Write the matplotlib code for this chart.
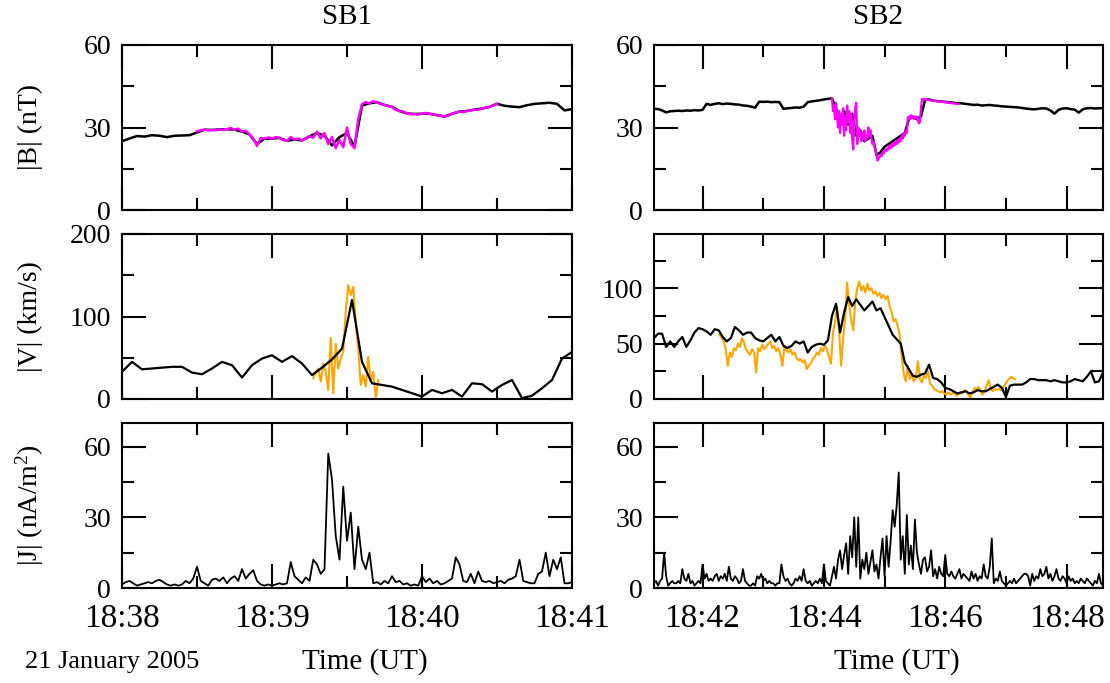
import numpy as np
import matplotlib
matplotlib.use('Agg')
import matplotlib.pyplot as plt
from matplotlib.ticker import MultipleLocator, FuncFormatter

# fonte parecida com Times (xmgrace)
plt.rcParams['font.family'] = ['Liberation Serif', 'DejaVu Serif']
plt.rcParams['mathtext.fontset'] = 'custom'
plt.rcParams['mathtext.rm'] = 'Liberation Serif'
plt.rcParams['mathtext.it'] = 'Liberation Serif:italic'

# tempo em minutos depois das 18:00, passo em segundos
# ---------------- SB1 ----------------
sb1_b_t0, sb1_b_passo = 38.0, 3.0
sb1_b = [25.0, 26.0, 26.9, 26.7, 27.2, 27.0, 26.5, 27.0, 27.1, 27.2, 28.2,
         29.2, 29.1, 29.3, 29.4, 29.2, 28.5, 27.5, 24.0, 25.9, 26.0, 26.2, 25.2,
         25.6, 25.3, 26.8, 28.0, 27.0, 23.5, 26.5, 28.0, 23.0, 38.0, 38.8, 39.2,
         38.2, 37.5, 36.0, 35.1, 34.9, 35.0, 35.0, 34.5, 34.0, 35.0, 35.8, 36.0,
         36.5, 36.9, 37.5,
         38.6, 37.9, 37.6, 37.4, 38.1, 38.6, 38.8, 39.0, 38.6, 36.2, 36.7]

sb1_bm_t0, sb1_bm_passo = 38.5, 1.5
sb1_b_mag = [28.6, 29.0, 29.2, 28.9, 29.1, 29.0, 29.3, 29.1, 29.4, 29.8,
             29.2, 29.6, 28.5, 28.8, 27.5, 26.0, 23.3, 26.2, 25.9, 26.4,
             26.0, 26.5, 26.2, 25.4, 25.2, 26.5, 25.6, 26.0, 25.3, 25.9,
             26.8, 26.3, 28.5, 26.0, 28.0, 24.0, 26.5, 22.5, 25.5, 22.8,
             30.0, 24.0, 22.5, 33.0, 38.5, 39.2, 38.8, 39.5, 39.2, 38.6,
             38.2, 37.8, 37.5, 36.4, 36.0, 35.8, 35.1, 34.8, 34.9, 34.7,
             35.0, 35.3, 35.0, 34.8, 34.5, 34.2, 34.0, 34.3, 35.0, 35.4,
             35.8, 35.6, 36.0, 36.2, 36.5, 36.4, 36.9, 37.2, 37.5, 38.0,
             38.6]

sb1_v_t0, sb1_v_passo = 38.0, 4.0
sb1_v = [33, 45, 36, 37, 38, 39, 39, 32, 30, 37, 45, 41, 26, 41, 49, 53, 45,
         52, 43, 29, 38, 48, 61, 120, 45, 19, 17, 15, 11, 7, 3, 11, 7, 11, 3,
         19, 18, 9, 17, 23, 1, 4, 13, 23, 49, 57]

sb1_vo_t0, sb1_vo_passo = 39.0 + 16.5 / 60, 1.0
sb1_v_lar = [25, 33, 37, 21, 43, 33, 11, 74, 7, 67, 37, 49, 57, 106, 138, 126,
             136, 94, 61, 17, 29, 15, 51, 21, 33, 1, 23]

sb1_j_t0, sb1_j_passo = 38.0, 1.5
sb1_j = [1.5, 2.5, 3, 2, 1, 1.5, 2, 2.5, 2, 3, 3.5, 2.5, 1.5, 1, 1.5, 1, 1.5,
         3, 2, 4, 9, 3, 2, 1, 3.5, 4, 3, 4.5, 2, 4, 5, 3, 8, 4, 6, 7.5, 3, 1.5,
         1, 1.5, 1, 1.5, 2, 1.5, 2, 11, 5, 3.5, 2, 4.5, 3, 12, 10, 6, 8, 57, 46,
         22, 12, 43, 20, 32, 8, 26, 12, 8, 15, 2, 2.5, 1.5, 3, 2, 5, 2.5, 3,
         1.5, 2, 1, 1.5, 1, 5, 2.5, 4, 2, 3, 1.5, 2, 3, 4, 13, 10, 3, 2.5, 6,
         2, 7, 3, 2.5, 3, 2, 2.5, 3, 2, 3.5, 4, 5, 12, 3, 2.5, 2, 2, 6, 7, 15,
         5, 12, 8, 13, 2, 2, 2.5]

# ---------------- SB2 ----------------
sb2_b_t0, sb2_b_passo = 41.2, 4.0
sb2_b = [36.8, 36.7, 36.2, 35.5, 35.9, 36.0, 36.1, 36.0, 36.2, 36.1, 36.3, 36.2,
         36.4, 38.6, 38.2, 38.6, 38.8, 38.5, 38.7, 38.6, 38.4, 38.3, 38.0, 37.9,
         37.6, 37.2, 39.4, 39.3, 39.4, 39.2, 39.3, 39.2, 36.8, 37.0, 37.1, 37.3,
         37.2, 37.6, 39.2, 39.5, 39.7, 39.9, 40.2, 40.4, 40.6, 37, 33, 36, 31,
         35, 27, 29, 25, 26, 27, 20, 21, 23, 24, 25, 26, 27, 28, 33, 34, 33, 34,
         40, 40.2, 39.8, 39.6, 39.5, 39.3, 39.2, 39.0, 38.8, 38.8, 38.6, 38.4,
         38.2, 38.3, 38.0, 38.1, 38.2, 38.0, 37.9, 37.7, 37.6, 37.5, 37.4, 37.3,
         37.1, 36.9, 36.7, 36.6, 36.8, 37.0, 36.9, 36.2, 35.0, 36.4, 36.9, 37.0,
         36.7, 36.5, 35.4, 36.6, 37.0, 37.1, 36.9, 37.0, 37.0]

sb2_bm_t0, sb2_bm_passo = 44.0 + 8.0 / 60, 1.0
sb2_b_mag = [40.5, 36, 38, 33, 39, 34, 30, 36, 28, 35, 31, 37, 27, 34, 29, 38,
             32, 36, 28, 35, 26, 22, 33, 37, 39, 24, 30, 27, 29, 25, 28, 26, 29,
             25, 27, 26, 30, 27, 29, 26, 24, 25, 23, 22, 20, 18, 18.5, 19.5, 20,
             19.5, 21, 20.5, 21.5, 22, 21.5, 22.5, 22, 23.5, 22.5, 24, 23, 24.5,
             23.5, 25, 24, 25.5, 24.5, 26, 25, 27, 26, 28, 27, 29, 28, 33.5, 34,
             33, 34.5, 33.5, 34, 33, 34, 33.5, 34, 32.5, 31.5, 32, 37, 40.3, 40.4,
             40.2, 40.3, 40.1, 40.0, 40.1, 39.9, 39.9, 39.8, 39.8, 39.7, 39.8,
             39.6, 39.6, 39.5, 39.6, 39.4, 39.5, 39.3, 39.4, 39.2, 39.3, 39.1,
             39.2, 39.0, 39.1, 38.9, 39.0, 38.8, 38.9, 38.7, 38.8, 38.6, 38.7,
             38.5, 38.6]

sb2_v_t0, sb2_v_passo = 41.2, 4.0
sb2_v = [55, 59, 59, 47, 52, 47, 52, 56, 47, 53, 60, 64, 63, 61, 58, 63, 62,
         56, 52, 55, 65, 62, 58, 60, 60, 55, 53, 52, 55, 58, 52, 56, 48, 46,
         48, 52, 50, 52, 42, 47, 49, 50, 49, 53, 75, 86, 60, 78, 92, 84, 90,
         85, 80, 84, 88, 80, 82, 74, 66, 58, 54, 50, 33, 27, 21, 20, 22, 23,
         31, 19, 18, 15, 10, 9, 7, 5, 6, 7, 5, 6, 8, 7, 7, 9, 11, 13, 10, 2,
         12, 13, 13, 13, 15, 18, 18, 17, 17, 17, 16, 17, 16, 15, 15, 16, 18,
         17, 16, 20, 25, 15, 16, 24]

sb2_vo_t0, sb2_vo_passo = 42.0 + 17.0 / 60, 2.0
sb2_v_lar = [58, 55, 52, 45, 30, 42, 38, 46, 44, 50, 47, 55, 51, 45, 42, 40,
             45, 42, 24, 46, 43, 49, 45, 47, 50, 52, 46, 48, 43, 46, 40, 30, 48,
             44, 42, 45, 40, 42, 37, 35, 36, 33, 35, 27, 30, 32, 36, 38, 42, 40,
             46, 43, 48, 45, 38, 32, 60, 70, 82, 62, 30, 55, 72, 105, 85, 72, 62,
             88, 100, 106, 98, 102, 96, 104, 98, 100, 95, 97, 93, 96, 91, 94, 90,
             93, 84, 78, 70, 72, 66, 58, 38, 22, 16, 30, 18, 22, 16, 19, 34, 18,
             15, 21, 19, 25, 14, 12, 9, 8, 7, 6, 7, 5, 4, 6, 4, 5, 6, 3, 4, 6, 5,
             8, 7, 4, 1, 6, 10, 8, 11, 7, 4, 8, 12, 17, 9, 7, 9, 8, 9, 8, 10, 13,
             16, 18, 20, 19, 18]

sb2_j_t0, sb2_j_passo = 41.2, 2.0
sb2_j = [2, 3, 1, 3, 4, 15, 5, 1, 2, 3, 2, 2, 3, 2, 8, 4, 3, 6, 2, 3, 1, 2, 3,
         2, 10, 4, 6, 3, 4, 3, 5, 6, 3, 5, 4, 6, 3, 9, 4, 3, 5, 4, 2, 3, 8, 3,
         2, 1, 1, 2, 1, 5, 4, 6, 3, 4, 2, 3, 2, 2, 1, 2, 2, 10, 5, 3, 4, 2, 1,
         2, 4, 3, 5, 3, 8, 3, 2, 3, 1, 2, 3, 2, 4, 2, 10, 3, 2, 1, 5, 9, 4, 12,
         16, 8, 14, 19, 6, 22, 13, 30, 9, 30, 4, 12, 8, 15, 6, 11, 16, 7, 10, 4,
         13, 21, 5, 22, 9, 20, 33, 26, 35, 49, 12, 22, 6, 31, 10, 18, 8, 29, 15,
         10, 6, 12, 13, 7, 9, 16, 5, 8, 4, 9, 6, 5, 14, 6, 5, 7, 5, 4, 6, 8, 4,
         6, 5, 4, 3, 7, 4, 6, 3, 5, 4, 10, 5, 4, 9, 21, 2, 4, 3, 7, 3, 2, 1, 2,
         3, 2, 4, 2, 3, 4, 5, 6, 6, 5, 1, 6, 3, 5, 4, 8, 5, 6, 9, 4, 6, 3, 5, 8,
         4, 3, 5, 4, 2, 5, 3, 4, 2, 3, 2, 4, 3, 2, 4, 3, 2, 1, 3, 2, 6, 2, 1]


def tempos(t0, passo, valores):
    return t0 + np.arange(len(valores)) * passo / 60.0


def rotulo_hora(x, pos):
    return "18:%02d" % int(round(x))


def estilo(ax, xlim, xmaj, xmin, ylim, ymaj, ymin, rotulos_x):
    ax.set_xlim(xlim)
    ax.set_ylim(ylim)
    ax.xaxis.set_major_locator(MultipleLocator(xmaj))
    ax.xaxis.set_minor_locator(MultipleLocator(xmin))
    ax.yaxis.set_major_locator(MultipleLocator(ymaj))
    ax.yaxis.set_minor_locator(MultipleLocator(ymin))
    ax.tick_params(which='both', direction='in', top=True, right=True, width=1.5)
    ax.tick_params(which='major', length=17)
    ax.tick_params(which='minor', length=8.5)
    ax.tick_params(axis='y', labelsize=20, pad=8)
    ax.tick_params(axis='x', labelsize=24, pad=11)
    for s in ax.spines.values():
        s.set_linewidth(1.5)
    if rotulos_x:
        ax.xaxis.set_major_formatter(FuncFormatter(rotulo_hora))
    else:
        ax.tick_params(labelbottom=False)


W, H = 1110, 683
fig = plt.figure(figsize=(W / 100, H / 100), dpi=100)

def caixa(x0, y0, x1, y1):
    return fig.add_axes([x0 / W, 1 - y1 / H, (x1 - x0) / W, (y1 - y0) / H])

ax_b1 = caixa(122, 45, 572, 210)
ax_v1 = caixa(122, 234, 572, 399)
ax_j1 = caixa(122, 423, 572, 588)
ax_b2 = caixa(654, 45, 1103, 210)
ax_v2 = caixa(654, 234, 1103, 399)
ax_j2 = caixa(654, 423, 1103, 588)

# SB1
ax_b1.plot(tempos(sb1_b_t0, sb1_b_passo, sb1_b), sb1_b, color='black', lw=1.8)
ax_b1.plot(tempos(sb1_bm_t0, sb1_bm_passo, sb1_b_mag), sb1_b_mag, color='magenta', lw=1.8)
ax_v1.plot(tempos(sb1_vo_t0, sb1_vo_passo, sb1_v_lar), sb1_v_lar, color='orange', lw=1.5)
ax_v1.plot(tempos(sb1_v_t0, sb1_v_passo, sb1_v), sb1_v, color='black', lw=1.6)
ax_j1.plot(tempos(sb1_j_t0, sb1_j_passo, sb1_j), sb1_j, color='black', lw=1.3)

# SB2
ax_b2.plot(tempos(sb2_b_t0, sb2_b_passo, sb2_b), sb2_b, color='black', lw=1.8)
ax_b2.plot(tempos(sb2_bm_t0, sb2_bm_passo, sb2_b_mag), sb2_b_mag, color='magenta', lw=1.6)
ax_v2.plot(tempos(sb2_vo_t0, sb2_vo_passo, sb2_v_lar), sb2_v_lar, color='orange', lw=1.5)
ax_v2.plot(tempos(sb2_v_t0, sb2_v_passo, sb2_v), sb2_v, color='black', lw=1.6)
ax_j2.plot(tempos(sb2_j_t0, sb2_j_passo, sb2_j), sb2_j, color='black', lw=1.3)

lim1 = (38.0, 41.0)
lim2 = (41.2, 48.6)
estilo(ax_b1, lim1, 1, 0.5, (0, 60), 30, 15, False)
estilo(ax_v1, lim1, 1, 0.5, (0, 200), 100, 50, False)
estilo(ax_j1, lim1, 1, 0.5, (0, 70), 30, 15, True)
estilo(ax_b2, lim2, 2, 1, (0, 60), 30, 15, False)
estilo(ax_v2, lim2, 2, 1, (0, 149), 50, 25, False)
estilo(ax_j2, lim2, 2, 1, (0, 70), 30, 15, True)

fig.text(347 / W, 1 - 17 / H, 'SB1', ha='center', va='center', fontsize=21)
fig.text(878 / W, 1 - 17 / H, 'SB2', ha='center', va='center', fontsize=21)

fig.text(30 / W, 1 - 127.5 / H, '|B| (nT)', rotation=90, ha='center', va='center', fontsize=20)
fig.text(30 / W, 1 - 316.5 / H, '|V| (km/s)', rotation=90, ha='center', va='center', fontsize=20)
fig.text(30 / W, 1 - 505.5 / H, '|J| (nA/m$^2$)', rotation=90, ha='center', va='center', fontsize=20)

fig.text(112 / W, 1 - 662 / H, '21 January 2005', ha='center', va='center', fontsize=19)
fig.text(365 / W, 1 - 662 / H, 'Time (UT)', ha='center', va='center', fontsize=21)
fig.text(897 / W, 1 - 662 / H, 'Time (UT)', ha='center', va='center', fontsize=21)

fig.savefig('out.png', dpi=100)
